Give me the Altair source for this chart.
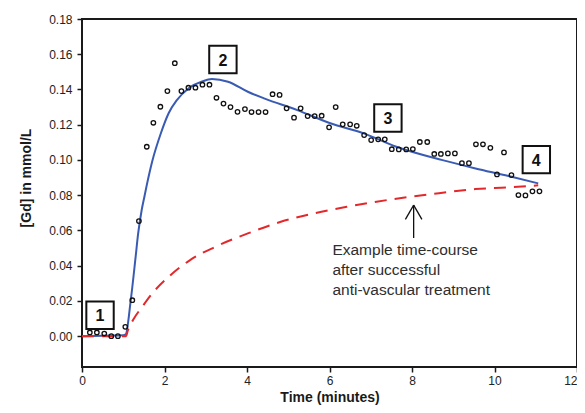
import altair as alt
import pandas as pd

# Observed Gd concentration (open circles)
obs_t = [0.19, 0.36, 0.54, 0.71, 0.87, 1.05, 1.22, 1.38, 1.57, 1.73,
         1.90, 2.07, 2.25, 2.41, 2.58, 2.75, 2.92, 3.09, 3.26, 3.43,
         3.60, 3.77, 3.95, 4.11, 4.28, 4.45, 4.62, 4.79, 4.96, 5.14,
         5.30, 5.47, 5.64, 5.81, 5.99, 6.15, 6.32, 6.50, 6.66, 6.84,
         7.01, 7.18, 7.34, 7.51, 7.68, 7.86, 8.02, 8.19, 8.37, 8.54,
         8.70, 8.87, 9.04, 9.21, 9.38, 9.55, 9.72, 9.90, 10.06, 10.23,
         10.41, 10.58, 10.75, 10.92, 11.09]
obs_v = [0.0021, 0.0021, 0.0015, 0.0000, 0.0000, 0.0053, 0.0204, 0.0653, 0.1075, 0.1211,
         0.1302, 0.1391, 0.1549, 0.1391, 0.1410, 0.1410, 0.1427, 0.1427, 0.1353, 0.1320,
         0.1300, 0.1273, 0.1289, 0.1272, 0.1272, 0.1272, 0.1373, 0.1369, 0.1293, 0.1240,
         0.1293, 0.1249, 0.1249, 0.1251, 0.1185, 0.1300, 0.1202, 0.1202, 0.1194, 0.1141,
         0.1113, 0.1117, 0.1117, 0.1061, 0.1060, 0.1060, 0.1062, 0.1102, 0.1102, 0.1034,
         0.1034, 0.1037, 0.1037, 0.0982, 0.0982, 0.1089, 0.1089, 0.1069, 0.0918, 0.1043,
         0.0914, 0.0801, 0.0799, 0.0822, 0.0822]

# Fitted curve (blue)
fit_t = [0.0, 0.5, 1.0, 1.06, 1.18, 1.30, 1.36, 1.45, 1.52, 1.57, 1.70, 1.91, 2.10,
         2.30, 2.58, 2.90, 3.15, 3.54, 4.02, 4.43, 5.22, 6.02, 6.83, 7.62,
         8.74, 9.54, 10.34, 11.06]
fit_v = [0.0, 0.0003, 0.0005, 0.001, 0.020, 0.045, 0.058, 0.072, 0.080, 0.0857, 0.099, 0.115, 0.1265,
         0.134, 0.1406, 0.1444, 0.146, 0.1444, 0.1387, 0.1348, 0.1283, 0.1208, 0.1151, 0.1075,
         0.0999, 0.0952, 0.0909, 0.0867]

# Example time-course after treatment (red dashed)
trt_t = [0.0, 0.5, 1.0, 1.07, 1.10, 1.26, 1.46, 1.70, 2.10, 2.62, 3.23, 4.02, 4.82,
         5.63, 6.42, 7.14, 7.94, 8.74, 9.54, 10.34, 11.06]
trt_v = [0.0, 0.0, 0.0, 0.0, 0.0024, 0.0100, 0.0167, 0.0242, 0.0337, 0.0432, 0.0507, 0.0583, 0.0649,
         0.0697, 0.0734, 0.0763, 0.0791, 0.0814, 0.0835, 0.0844, 0.0856]

# Numbered boxes
box_labels = ["1", "2", "3", "4"]
box_t = [0.437, 3.416, 7.416, 11.014]
box_v = [0.0119, 0.157, 0.1238, 0.1002]

# Annotation
note_lines = ["Example time-course", "after successful", "anti-vascular treatment"]
note_t = [6.07, 6.07, 6.07]
note_v = [0.0460, 0.0348, 0.0236]

arrow_t = [8.04, 7.84, 8.24]
arrow_v = [0.0557, 0.0663, 0.0663]
arrow_t2 = [8.04, 8.04, 8.04]
arrow_v2 = [0.0744, 0.0744, 0.0744]

x_ticks = [0, 2, 4, 6, 8, 10, 12]
y_ticks = [0.0, 0.02, 0.04, 0.06, 0.08, 0.10, 0.12, 0.14, 0.16, 0.18]

FONT = "Liberation Sans"

obs = pd.DataFrame({"t": obs_t, "v": obs_v})
fit = pd.DataFrame({"t": fit_t, "v": fit_v})
trt = pd.DataFrame({"t": trt_t, "v": trt_v})
boxes = pd.DataFrame({"t": box_t, "v": box_v, "label": box_labels})
notes = pd.DataFrame({"t": note_t, "v": note_v, "label": note_lines})
arrow = pd.DataFrame({"t": arrow_t, "v": arrow_v, "t2": arrow_t2, "v2": arrow_v2})

x_enc = alt.X("t:Q",
              scale=alt.Scale(domain=[0, 12], nice=False, zero=False),
              axis=alt.Axis(values=x_ticks, title="Time (minutes)", format="d",
                            labelPadding=3, labelFlush=False, labelOverlap=False,
                            labelAlign=alt.ExprRef("datum.value == 12 ? 'right' : 'center'"),
                            titleBaseline="alphabetic", titleY=34))
y_enc = alt.Y("v:Q",
              scale=alt.Scale(domain=[-0.0175, 0.18], nice=False, zero=False),
              axis=alt.Axis(values=y_ticks, format=".2f", title="[Gd] in mmol/L",
                            labelPadding=5, labelFlush=False, labelOverlap=False,
                            titleBaseline="alphabetic",
                            titleX=-52, titleY=158.5))

blue = alt.Chart(fit).mark_line(color="#3a5bb3", strokeWidth=2, interpolate="monotone").encode(
    x=x_enc, y=y_enc)
red = alt.Chart(trt).mark_line(color="#e3282b", strokeWidth=2, strokeDash=[12, 8],
                               interpolate="monotone").encode(x=x_enc, y=y_enc)
pts = alt.Chart(obs).mark_point(shape="circle", filled=False, color="#111", size=20,
                                strokeWidth=1.3, opacity=1).encode(x=x_enc, y=y_enc)
box_marks = alt.Chart(boxes).mark_square(size=750, fill="white", stroke="#111",
                                          strokeWidth=2, opacity=1).encode(x=x_enc, y=y_enc)
box_text = alt.Chart(boxes).mark_text(font=FONT, fontSize=16, fontWeight="bold",
                                      color="#111", baseline="middle", dy=1).encode(
    x=x_enc, y=y_enc, text="label:N")
note_text = alt.Chart(notes).mark_text(font=FONT, fontSize=15.5, color="#2e2e2e",
                                       align="left", baseline="alphabetic").encode(
    x=x_enc, y=y_enc, text="label:N")
arrow_marks = alt.Chart(arrow).mark_rule(color="#111", strokeWidth=1.3).encode(
    x=x_enc, y=y_enc, x2="t2:Q", y2="v2:Q")

chart = alt.layer(blue, red, pts, box_marks, box_text, note_text, arrow_marks).properties(
    width=495, height=348,
    autosize=alt.AutoSizeParams(type="none"),
    padding={"left": 74, "top": 11, "right": 0, "bottom": 38},
).configure_view(
    stroke="#1a1a1a", strokeWidth=2
).configure_axis(
    domain=False, grid=False, tickColor="#1a1a1a", tickWidth=1.5, tickSize=5,
    labelFont=FONT, labelFontSize=12, labelColor="#222",
    titleFont=FONT, titleFontSize=14, titleFontWeight="bold", titleColor="#1a1a1a",
)

chart.save("out.html", embed_options={"renderer": "svg", "actions": False})
